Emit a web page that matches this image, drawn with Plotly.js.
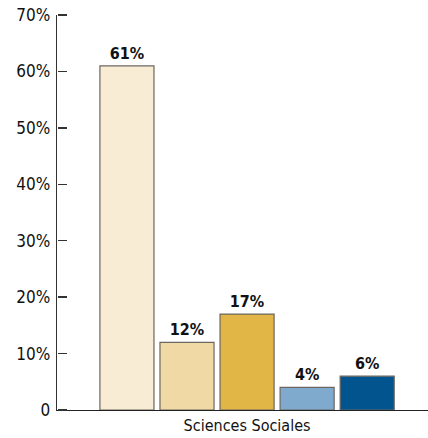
<!DOCTYPE html>
<html><head><meta charset="utf-8">
<script src="https://cdn.plot.ly/plotly-3.0.1.min.js"></script>
<style>html,body{margin:0;padding:0;background:#fff}#c{width:428px;height:438px}</style>
</head><body><div id="c"></div>
<script>
const categories = ["Sciences Sociales"];
const seriesNames = ["S1","S2","S3","S4","S5"];
const seriesValues = [61, 12, 17, 4, 6];
const seriesColors = ["#F8ECD5","#F0D9A5","#E1B546","#80AACD","#02548F"];
const tickVals = [0,10,20,30,40,50,60,70];
const tickText = ["0","10%","20%","30%","40%","50%","60%","70%"];

const font = "Liberation Sans Narrow, DejaVu Sans Condensed, Arial Narrow, sans-serif";
const traces = seriesValues.map((v,i)=>({
  type:"bar", name:seriesNames[i], x:categories, y:[v],
  marker:{color:seriesColors[i], line:{color:"#6b6760", width:1.2}},
  text:[v+"%"], textposition:"outside", cliponaxis:false,
  textfont:{family:font, size:16, color:"#111", weight:"bold"},
  hoverinfo:"none"
}));
// empty helper trace so the tick-mark axis (y2) is drawn
traces.push({type:"scatter", mode:"markers", marker:{opacity:0}, x:categories, y:[null], yaxis:"y2", hoverinfo:"none", showlegend:false});
const layout = {
  width:428, height:438, showlegend:false,
  margin:{l:57, r:0, t:15, b:28},
  paper_bgcolor:"#fff", plot_bgcolor:"#fff",
  barmode:"group", bargap:0.21, bargroupgap:0.1,
  xaxis:{type:"category", range:[-0.5,0.476], showline:true, linecolor:"#222", linewidth:1.3,
    ticks:"", showgrid:false, zeroline:false, tickfont:{family:font,size:16,color:"#111"}},
  yaxis:{range:[0,70], tickmode:"array", tickvals:tickVals, ticktext:tickText, ticks:"outside", ticklen:2,
    tickcolor:"rgba(0,0,0,0)", showline:true, linecolor:"#333", linewidth:1.3,
    showgrid:false, zeroline:false, tickfont:{family:font,size:17,color:"#111"}},
  yaxis2:{overlaying:"y", side:"right", anchor:"free", position:0, automargin:false,
    range:[0,70], tickmode:"array", tickvals:tickVals, ticks:"outside", ticklen:9,
    tickcolor:"#333", tickwidth:1.3, showticklabels:false, showline:false, showgrid:false, zeroline:false}
};
Plotly.newPlot("c", traces, layout, {staticPlot:true, displayModeBar:false});
</script></body></html>
